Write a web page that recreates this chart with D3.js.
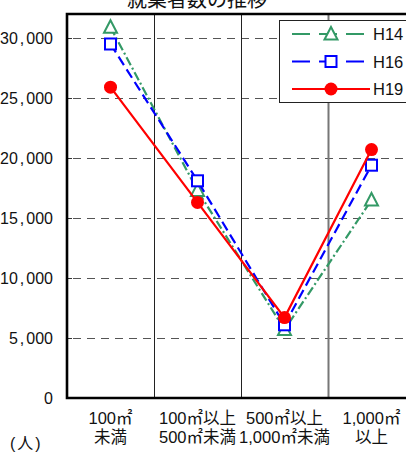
<!DOCTYPE html>
<html lang="ja">
<head>
<meta charset="UTF-8">
<script src="https://d3js.org/d3.v7.min.js"></script>
<style>
  body { margin: 0; background: #fff; }
  svg { display: block; font-family: "Liberation Sans", "Noto Sans CJK JP", sans-serif; }
</style>
</head>
<body>
<svg width="406" height="454"></svg>
<script>
var title = "就業者数の推移";
var categories = ["c1", "c2", "c3", "c4"];
var catLine1 = ["100㎡", "100㎡以上", "500㎡以上", "1,000㎡"];
var catLine2 = ["未満", "500㎡未満", "1,000㎡未満", "以上"];
var yTicks = [0, 5000, 10000, 15000, 20000, 25000, 30000];
var h14 = [30900, 17300, 5700, 16500];
var h16 = [29500, 18100, 6100, 19400];
var h19 = [25900, 16300, 6700, 20700];

var series = [
  { name: "H14", values: h14, color: "#339966", dash: "9,3,2,3", marker: "triangle" },
  { name: "H16", values: h16, color: "#0000ff", dash: "10,5", marker: "square" },
  { name: "H19", values: h19, color: "#ff0000", dash: null, marker: "circle" }
];

var svg = d3.select("svg");
var pLeft = 67, pRight = 415, pTop = 14, pBottom = 398;

var x = d3.scaleBand().domain(categories).range([pLeft, pRight]);
var y = d3.scaleLinear().domain([0, 32000]).range([pBottom, pTop]);

// title (cut off at top)
svg.append("text")
  .attr("x", 197).attr("y", 7)
  .attr("text-anchor", "middle")
  .attr("font-size", 20)
  .attr("fill", "#111")
  .style("font-family", "'Noto Sans CJK JP'")
  .text(title);

// gridlines
svg.append("g").selectAll("line")
  .data(yTicks.filter(function(d) { return d > 0; }))
  .enter().append("line")
  .attr("x1", pLeft + 2).attr("x2", pRight)
  .attr("y1", function(d) { return Math.round(y(d)) + 0.5; })
  .attr("y2", function(d) { return Math.round(y(d)) + 0.5; })
  .attr("stroke", "#555")
  .attr("stroke-width", 1.2)
  .attr("stroke-dasharray", "8,6")
  .attr("stroke-dashoffset", -4);

// category separators
svg.append("g").selectAll("line")
  .data(categories.slice(1))
  .enter().append("line")
  .attr("x1", function(d) { return x(d) + 0.5; })
  .attr("x2", function(d) { return x(d) + 0.5; })
  .attr("y1", pTop).attr("y2", pBottom)
  .attr("stroke", function(d, i) { return i == 2 ? "#777" : "#222"; })
  .attr("stroke-width", function(d, i) { return i == 2 ? 2 : 1; });

// y axis
var yAxis = d3.axisLeft(y).tickValues(yTicks).tickSize(-5).tickPadding(14).tickFormat(d3.format(","));
var ya = svg.append("g").attr("transform", "translate(" + pLeft + ",0)").call(yAxis);
ya.select(".domain").remove();
ya.selectAll(".tick line").attr("stroke", "#333");
ya.selectAll(".tick text")
  .attr("font-size", 16)
  .attr("fill", "#111")
  .style("font-family", "'Liberation Sans'")
  .each(function(d) {
    var s = d3.format(",")(d);
    var t = d3.select(this).text(null);
    var parts = s.split(",");
    if (parts.length == 1) { t.text(s); return; }
    t.append("tspan").text(parts[0]);
    t.append("tspan").attr("dx", 2).text(",");
    t.append("tspan").attr("dx", 2).text(parts[1]);
  });

// frame
svg.append("path")
  .attr("d", "M" + (pRight + 5) + "," + pTop + "H" + pLeft + "V" + pBottom + "H" + (pRight + 5))
  .attr("fill", "none")
  .attr("stroke", "#000")
  .attr("stroke-width", 2.6);

// x labels
var xl = svg.append("g").attr("font-size", 16.5).attr("fill", "#111");
xl.selectAll("text.l1").data(categories).enter().append("text")
  .attr("class", "l1")
  .attr("x", function(d) { return x(d) + x.bandwidth() / 2; })
  .attr("y", 424)
  .attr("text-anchor", "middle")
  .text(function(d, i) { return catLine1[i]; });
xl.selectAll("text.l2").data(categories).enter().append("text")
  .attr("class", "l2")
  .attr("x", function(d) { return x(d) + x.bandwidth() / 2; })
  .attr("y", 443)
  .attr("text-anchor", "middle")
  .text(function(d, i) { return catLine2[i]; });

svg.append("text")
  .attr("x", 10).attr("y", 449)
  .attr("font-size", 16).attr("fill", "#111")
  .attr("letter-spacing", 2)
  .text("(人)");

// lines
var line = d3.line()
  .x(function(d, i) { return x(categories[i]) + x.bandwidth() / 2; })
  .y(function(d) { return y(d); });

function drawMarker(g, type, color, cx, cy) {
  if (type == "triangle") {
    g.append("path")
      .attr("d", "M" + cx + "," + (cy - 7) + "L" + (cx + 6.5) + "," + (cy + 5.5) + "L" + (cx - 6.5) + "," + (cy + 5.5) + "Z")
      .attr("fill", "#fff").attr("stroke", color).attr("stroke-width", 2);
  } else if (type == "square") {
    g.append("rect")
      .attr("x", cx - 5.5).attr("y", cy - 5.5)
      .attr("width", 11).attr("height", 11)
      .attr("fill", "#fff").attr("stroke", color).attr("stroke-width", 2);
  } else {
    g.append("circle")
      .attr("cx", cx).attr("cy", cy).attr("r", 6.5)
      .attr("fill", color);
  }
}

series.forEach(function(s) {
  var g = svg.append("g");
  g.append("path")
    .attr("d", line(s.values))
    .attr("fill", "none")
    .attr("stroke", s.color)
    .attr("stroke-width", 2.2)
    .attr("stroke-dasharray", s.dash);
  s.values.forEach(function(v, i) {
    drawMarker(g, s.marker, s.color, x(categories[i]) + x.bandwidth() / 2, y(v));
  });
});

// legend
var lg = svg.append("g");
lg.append("rect")
  .attr("x", 279.5).attr("y", 20.5)
  .attr("width", 140).attr("height", 82)
  .attr("fill", "#fff").attr("stroke", "#222").attr("stroke-width", 1);
series.forEach(function(s, i) {
  var ly = 34 + i * 27.5;
  lg.append("line")
    .attr("x1", 292).attr("x2", 370)
    .attr("y1", ly).attr("y2", ly)
    .attr("stroke", s.color).attr("stroke-width", 2.2)
    .attr("stroke-dasharray", s.marker == "circle" ? null : "18,9");
  drawMarker(lg, s.marker, s.color, 331, ly);
  lg.append("text")
    .attr("x", 373).attr("y", ly + 6)
    .attr("font-size", 16.5).attr("fill", "#111")
    .text(s.name);
});
</script>
</body>
</html>
